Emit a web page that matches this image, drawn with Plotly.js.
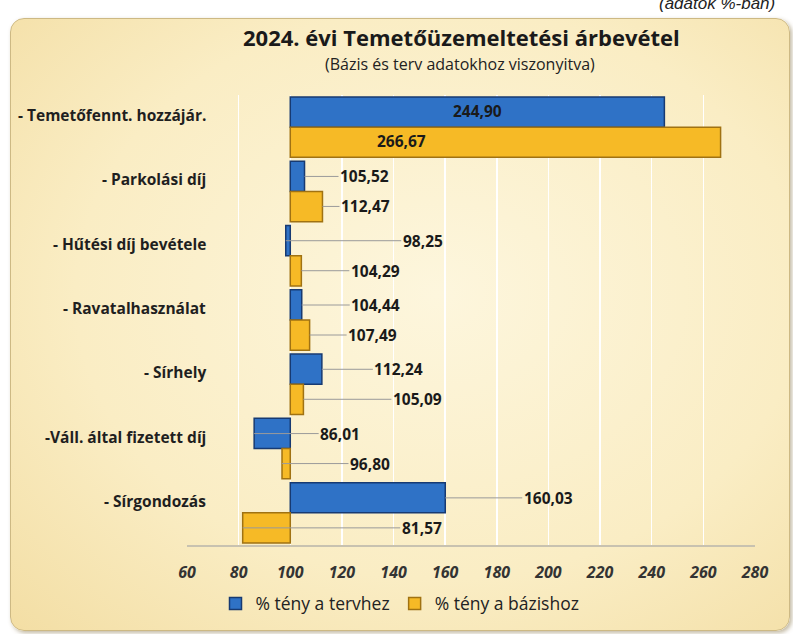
<!DOCTYPE html>
<html><head><meta charset="utf-8">
<script src="https://cdn.plot.ly/plotly-3.0.1.min.js"></script>
<style>
html,body{margin:0;padding:0;background:#fff;width:793px;height:634px;overflow:hidden;}
#frame{position:absolute;left:10px;top:18px;width:778px;height:611px;border-radius:14px;border:1.5px solid #cdb984;
background:radial-gradient(ellipse at 55% 45%, #FDF6DD 0%, #FAEDC4 60%, #F3DEA4 100%);box-shadow:2px 2px 4px rgba(120,100,50,0.45);}
#chart{position:absolute;left:0;top:0;width:793px;height:634px;}
</style></head>
<body><div id="frame"></div><div id="chart"></div>
<script>
const categories = ['- Temetőfennt. hozzájár.','- Parkolási díj','- Hűtési díj bevétele','- Ravatalhasználat','- Sírhely','-Váll. által fizetett díj','- Sírgondozás'];
const tervhez = [244.90,105.52,98.25,104.44,112.24,86.01,160.03];
const bazishoz = [266.67,112.47,104.29,107.49,105.09,96.80,81.57];
const seriesNames = ['% tény a tervhez','% tény a bázishoz'];
const xTicks = [60,80,100,120,140,160,180,200,220,240,260,280];
const baseValue = 100;

// label style: pixel offsets of the value labels (null = inside bar)
const blueShift = [null,60,137,74,77,86,103];
const yellowShift = [null,43,74,63,114,88,179];

const fmt = v => v.toFixed(2).replace('.', ',');
const blue = '#2F72C6', blueEdge = '#173A72';
const yellow = '#F6BA26', yellowEdge = '#A07212';
const FONT = 'Open Sans, Noto Sans, sans-serif';

const traces = [
  {type:'bar', orientation:'h', name:seriesNames[0], y:categories, x:tervhez.map(v=>v-baseValue), base:baseValue,
   marker:{color:blue, line:{color:blueEdge, width:1.5}}, hoverinfo:'skip'},
  {type:'bar', orientation:'h', name:seriesNames[1], y:categories, x:bazishoz.map(v=>v-baseValue), base:baseValue,
   marker:{color:yellow, line:{color:yellowEdge, width:1.5}}, hoverinfo:'skip'}
];

const annotations = [];
const valFont = {family:FONT, size:15.5, color:'#1a1a1a', weight:'bold'};
function addLabels(vals, shifts, yshift){
  vals.forEach((v,i)=>{
    if(shifts[i]===null){
      if(yshift>0){
        annotations.push({x:(baseValue+v)/2, y:categories[i], xref:'x', yref:'y', yshift:yshift+1, text:fmt(v), showarrow:false, font:valFont});
      } else {
        annotations.push({x:baseValue, y:categories[i], xref:'x', yref:'y', yshift:yshift+1, xanchor:'left', xshift:85, text:fmt(v), showarrow:false, font:valFont});
      }
    } else {
      annotations.push({x:v, y:categories[i], xref:'x', yref:'y', yshift:yshift, text:fmt(v), showarrow:true, arrowhead:0, arrowwidth:1, arrowcolor:'#9a9a9a', ax:shifts[i], ay:0, font:valFont});
    }
  });
}
addLabels(tervhez, blueShift, 15);
addLabels(bazishoz, yellowShift, -15);

categories.forEach(c=>{
  annotations.push({x:0, xref:'paper', y:c, yref:'y', xanchor:'right', yanchor:'middle', xshift:21, yshift:12, text:c, showarrow:false,
    font:{family:FONT, size:15.5, color:'#1f1f1f', weight:'bold'}});
});

annotations.push({x:0.484, y:1.130, xref:'paper', yref:'paper', xanchor:'center', yanchor:'middle', text:'2024. évi Temetőüzemeltetési árbevétel', showarrow:false,
  font:{family:FONT, size:22, color:'#1a1a1a', weight:'bold'}});
annotations.push({x:0.481, y:1.0684, xref:'paper', yref:'paper', xanchor:'center', yanchor:'middle', text:'(Bázis és terv adatokhoz viszonyitva)', showarrow:false,
  font:{family:FONT, size:16, color:'#222'}});
annotations.push({x:1.0387, y:1.203, xref:'paper', yref:'paper', xanchor:'right', yanchor:'middle', text:'(adatok %-ban)', showarrow:false,
  font:{family:'Liberation Sans, Arial, sans-serif', size:17, color:'#222', style:'italic'}});

const layout = {
  width:793, height:634,
  margin:{l:187, r:38, t:95, b:86},
  paper_bgcolor:'rgba(0,0,0,0)', plot_bgcolor:'rgba(0,0,0,0)',
  barmode:'group', bargap:0.06, bargroupgap:0,
  showlegend:true,
  legend:{orientation:'h', x:0.375, xanchor:'center', y:-0.13, yanchor:'middle', font:{family:FONT, size:17.5, color:'#222'}, traceorder:'normal', itemwidth:30},
  xaxis:{range:[60,280], tickvals:xTicks, ticktext:xTicks.map(String), showgrid:true, gridcolor:'#ffffff', gridwidth:1.5, zeroline:false,
    showline:true, linecolor:'#c8c2b0', linewidth:1.5, ticks:'', ticklabelstandoff:12,
    tickfont:{family:FONT, size:16, color:'#333', weight:'bold', style:'italic'}, fixedrange:true},
  yaxis:{type:'category', autorange:'reversed', showticklabels:false, showgrid:false, zeroline:false, showline:false, ticks:'', fixedrange:true},
  annotations:annotations
};
Plotly.newPlot('chart', traces, layout, {displayModeBar:false, staticPlot:true});
</script>
</body></html>
